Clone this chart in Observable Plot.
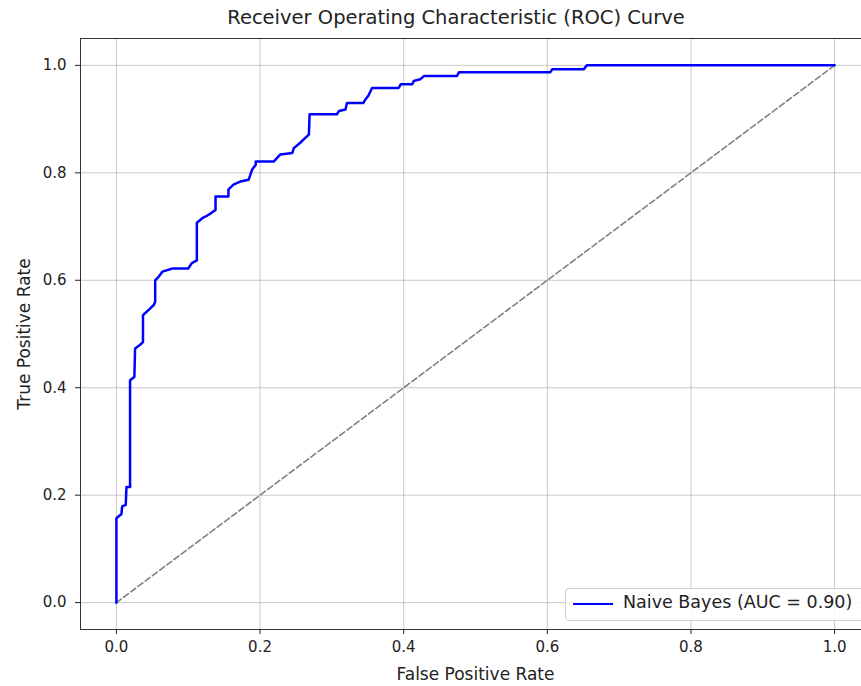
<!DOCTYPE html>
<html><head><meta charset="utf-8">
<script src="https://cdn.jsdelivr.net/npm/d3@7"></script>
<script src="https://cdn.jsdelivr.net/npm/@observablehq/plot@0.6"></script>
<style>
body{margin:0;background:#fff;font-family:"DejaVu Sans",sans-serif;}
#wrap{position:relative;width:861px;height:686px;overflow:hidden;background:#fff;}
#title{position:absolute;left:0;top:6px;width:912px;text-align:center;font-size:19.5px;color:#222;line-height:24px;}
#chart{position:absolute;left:0;top:30px;}
#legend{position:absolute;left:565px;top:588px;width:310px;height:31px;border:1px solid #d0d0d0;border-radius:4px;background:rgba(255,255,255,0.85);font-size:17.5px;color:#222;}
#legend .sw{position:absolute;left:7px;top:14px;width:40px;height:0;border-top:2.5px solid #0000ff;}
#legend .lb{position:absolute;left:57px;top:3px;white-space:nowrap;}
</style>
</head><body>
<div id="wrap">
  <div id="title">Receiver Operating Characteristic (ROC) Curve</div>
  <div id="chart"></div>
  <div id="legend"><div class="sw"></div><div class="lb" id="legendLabel"></div></div>
</div>
<script>
const fpr = [0,0,0.007,0.008,0.013,0.014,0.019,0.019,0.025,0.026,0.033,0.037,0.037,0.045,0.052,0.054,0.054,0.059,0.064,0.078,0.1,0.105,0.112,0.112,0.12,0.126,0.132,0.138,0.138,0.156,0.156,0.163,0.173,0.184,0.189,0.194,0.194,0.219,0.228,0.245,0.247,0.256,0.263,0.268,0.269,0.307,0.31,0.319,0.321,0.344,0.347,0.351,0.356,0.393,0.396,0.412,0.414,0.423,0.428,0.474,0.477,0.604,0.607,0.651,0.655,1];
const tpr = [0,0.157,0.165,0.179,0.182,0.215,0.215,0.414,0.42,0.473,0.48,0.485,0.535,0.545,0.554,0.56,0.60,0.607,0.616,0.622,0.622,0.632,0.637,0.707,0.716,0.72,0.725,0.731,0.756,0.756,0.769,0.778,0.784,0.787,0.806,0.815,0.821,0.821,0.834,0.837,0.846,0.856,0.865,0.871,0.909,0.909,0.915,0.918,0.930,0.930,0.937,0.944,0.958,0.958,0.965,0.965,0.971,0.974,0.980,0.980,0.987,0.987,0.993,0.993,1,1];
const diagX = [0, 1];
const diagY = [0, 1];
const ticks = [0, 0.2, 0.4, 0.6, 0.8, 1.0];
const seriesName = "Naive Bayes";
const auc = 0.90;

const roc = fpr.map((x, i) => ({x, y: tpr[i]}));
const diag = diagX.map((x, i) => ({x, y: diagY[i]}));

document.getElementById("legendLabel").textContent = `${seriesName} (AUC = ${auc.toFixed(2)})`;

const chart = Plot.plot({
  width: 870,
  height: 656,
  marginLeft: 80,
  marginRight: 0,
  marginTop: 8,
  marginBottom: 57,
  style: {fontFamily: "DejaVu Sans, sans-serif", fontSize: "15px", color: "#222", maxWidth: "none", background: "white"},
  x: {domain: [-0.05, 1.05]},
  y: {domain: [-0.05, 1.05]},
  marks: [
    Plot.gridX(ticks, {stroke: "#b0b0b0", strokeOpacity: 0.7, strokeWidth: 1}),
    Plot.gridY(ticks, {stroke: "#b0b0b0", strokeOpacity: 0.7, strokeWidth: 1}),
    Plot.line(diag, {x: "x", y: "y", stroke: "#808080", strokeWidth: 1.6, strokeDasharray: "6,3"}),
    Plot.line(roc, {x: "x", y: "y", stroke: "#0000ff", strokeWidth: 2.5}),
    Plot.frame({stroke: "#333", strokeWidth: 1}),
    Plot.axisX(ticks, {tickFormat: d => d.toFixed(1), tickSize: 5, tickPadding: 7, fontSize: 15, label: null}),
    Plot.axisX({label: "False Positive Rate", ticks: [], tickSize: 0, labelAnchor: "center", labelArrow: "none", labelOffset: 50, fontSize: 17}),
    Plot.axisY(ticks, {tickFormat: d => d.toFixed(1), tickSize: 5, tickPadding: 9, fontSize: 15, label: null}),
    Plot.axisY({label: "True Positive Rate", ticks: [], tickSize: 0, labelAnchor: "center", labelArrow: "none", labelOffset: 63, fontSize: 17})
  ]
});
document.getElementById("chart").appendChild(chart);
</script>
</body></html>
